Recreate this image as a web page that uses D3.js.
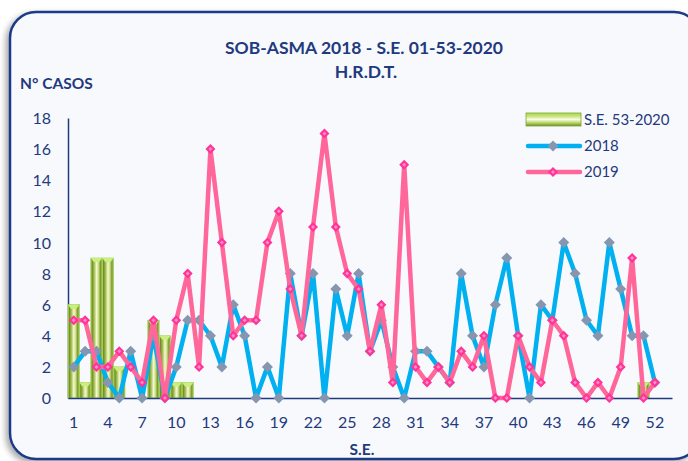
<!DOCTYPE html>
<html>
<head>
<meta charset="utf-8">
<script src="https://cdn.jsdelivr.net/npm/d3@7"></script>
<style>
  body { margin: 0; background: #ffffff; }
  text { font-family: Lato, "Open Sans", sans-serif; fill: #1f3a7e; }
</style>
</head>
<body>
<div id="chart"></div>
<script>
// weeks 1..53 (53 is an empty slot at the end)
var weeks = d3.range(1, 54);
var tickWeeks = [1, 4, 7, 10, 13, 16, 19, 22, 25, 28, 31, 34, 37, 40, 43, 46, 49, 52];
var yTicks = [0, 2, 4, 6, 8, 10, 12, 14, 16, 18];

// S.E. 53-2020 bars (week, value)
var barWeeks = [1, 2, 3, 4, 5, 8, 9, 10, 11, 51];
var barValues = [6, 1, 9, 9, 2, 5, 4, 1, 1, 1];

// 2018 and 2019, weeks 1..52
var values2018 = [2, 3, 3, 1, 0, 3, 0, 4, 0, 2, 5, 5, 4, 2, 6, 4, 0, 2, 0, 8, 4, 8, 0, 7, 4, 8,
                  3, 5, 2, 0, 3, 3, 2, 1, 8, 4, 2, 6, 9, 4, 0, 6, 5, 10, 8, 5, 4, 10, 7, 4, 4, 1];
var values2019 = [5, 5, 2, 2, 3, 2, 1, 5, 0, 5, 8, 2, 16, 10, 4, 5, 5, 10, 12, 7, 4, 11, 17, 11, 8, 7,
                  3, 6, 1, 15, 2, 1, 2, 1, 3, 2, 4, 0, 0, 4, 2, 1, 5, 4, 1, 0, 1, 0, 2, 9, 0, 1];

var W = 688, H = 461;
var navy = "#1f3a7e";

var svg = d3.select("#chart").append("svg").attr("width", W).attr("height", H);
var defs = svg.append("defs");

// shadow for the frame
var f = defs.append("filter").attr("id", "shadow").attr("x", "-5%").attr("y", "-5%").attr("width", "110%").attr("height", "110%");
f.append("feGaussianBlur").attr("in", "SourceAlpha").attr("stdDeviation", 3);
f.append("feOffset").attr("dx", -3).attr("dy", 3).attr("result", "b");
f.append("feComponentTransfer").append("feFuncA").attr("type", "linear").attr("slope", 0.35);
var fm = f.append("feMerge");
fm.append("feMergeNode");
fm.append("feMergeNode").attr("in", "SourceGraphic");

// bar gradient (3d cylinder look)
var g1 = defs.append("linearGradient").attr("id", "barGrad").attr("x1", "0").attr("x2", "1").attr("y1", "0").attr("y2", "0");
[["0", "#b5dc64"], ["0.12", "#6f8f25"], ["0.3", "#a6bf55"], ["0.5", "#f3f7cf"], ["0.65", "#d5e592"], ["0.85", "#7b9a2e"], ["1", "#a8d058"]]
  .forEach(function(s) { g1.append("stop").attr("offset", s[0]).attr("stop-color", s[1]); });
var g2 = defs.append("linearGradient").attr("id", "legGrad").attr("x1", "0").attr("x2", "0").attr("y1", "0").attr("y2", "1");
[["0", "#a8d850"], ["0.25", "#c5e57a"], ["0.5", "#fbfde8"], ["0.75", "#b7d664"], ["1", "#6f8f25"]]
  .forEach(function(s) { g2.append("stop").attr("offset", s[0]).attr("stop-color", s[1]); });

// frame
svg.append("rect")
  .attr("x", 10).attr("y", 12).attr("width", 690).attr("height", 447)
  .attr("rx", 26)
  .attr("fill", "#f8f9fc")
  .attr("stroke", "#1d3a86").attr("stroke-width", 2.5)
  .attr("filter", "url(#shadow)");

// scales
var x = d3.scaleBand().domain(weeks).range([68, 672]).padding(0);
var y = d3.scaleLinear().domain([0, 18]).range([398, 118]);

// titles
svg.append("text").attr("x", 364).attr("y", 54).attr("text-anchor", "middle")
  .style("font-weight", "bold").style("font-size", "17.5px").text("SOB-ASMA 2018 - S.E. 01-53-2020");
svg.append("text").attr("x", 366).attr("y", 78).attr("text-anchor", "middle")
  .style("font-weight", "bold").style("font-size", "17.5px").text("H.R.D.T.");
svg.append("text").attr("x", 20).attr("y", 89)
  .style("font-weight", "bold").style("font-size", "15.5px").text("N° CASOS");
svg.append("text").attr("x", 362).attr("y", 455).attr("text-anchor", "middle")
  .style("font-weight", "bold").style("font-size", "15.5px").text("S.E.");

// y axis
var yAxis = d3.axisLeft(y).tickValues(yTicks).tickSize(0).tickPadding(17);
var gy = svg.append("g").attr("transform", "translate(68,0)").call(yAxis);
gy.select(".domain").attr("stroke", navy).attr("stroke-width", 1.5);
gy.selectAll("text").style("font-size", "16px").attr("fill", navy).attr("dy", "0.35em");

// bars
var bars = barWeeks.map(function(w, i) { return {w: w, v: barValues[i]}; });
var gb = svg.append("g");
gb.selectAll("rect.bar").data(bars).enter().append("rect")
  .attr("class", "bar")
  .attr("x", function(d) { return x(d.w); })
  .attr("y", function(d) { return y(d.v); })
  .attr("width", x.bandwidth())
  .attr("height", function(d) { return y(0) - y(d.v); })
  .attr("fill", "url(#barGrad)")
  .attr("stroke", "#9cc84a").attr("stroke-width", 0.6);
// bevel on top of each bar
gb.selectAll("path.cap").data(bars).enter().append("path")
  .attr("class", "cap")
  .attr("d", function(d) {
    var x0 = x(d.w), x1 = x0 + x.bandwidth(), t = y(d.v);
    return "M" + x0 + "," + t + "L" + x1 + "," + t + "L" + (x1 - 3) + "," + (t + 4) + "L" + (x0 + 3) + "," + (t + 4) + "Z";
  })
  .attr("fill", "#c9ef7e");

// x axis
var xAxis = d3.axisBottom(x).tickValues(tickWeeks).tickSize(0).tickPadding(19);
var gx = svg.append("g").attr("transform", "translate(0,398)").call(xAxis);
gx.select(".domain").attr("stroke", navy).attr("stroke-width", 1.5);
gx.selectAll("text").style("font-size", "16px").attr("fill", navy);

function cx(i) { return x(weeks[i]) + x.bandwidth() / 2; }
var line = d3.line().x(function(d, i) { return cx(i); }).y(function(d) { return y(d); });
var diamond = function(s) { return "M0," + (-s) + "L" + s + ",0L0," + s + "L" + (-s) + ",0Z"; };

// 2018
svg.append("path").attr("d", line(values2018)).attr("fill", "none")
  .attr("stroke", "#00b0f0").attr("stroke-width", 4.5).attr("stroke-linejoin", "round");
svg.append("g").selectAll("path").data(values2018).enter().append("path")
  .attr("transform", function(d, i) { return "translate(" + cx(i) + "," + y(d) + ")"; })
  .attr("d", diamond(5.5)).attr("fill", "#8496b0");

// 2019
svg.append("path").attr("d", line(values2019)).attr("fill", "none")
  .attr("stroke", "#ff6699").attr("stroke-width", 4.5).attr("stroke-linejoin", "round");
var m19 = svg.append("g").selectAll("g").data(values2019).enter().append("g")
  .attr("transform", function(d, i) { return "translate(" + cx(i) + "," + y(d) + ")"; });
m19.append("path").attr("d", diamond(5)).attr("fill", "#ff3399");
m19.append("path").attr("d", diamond(2)).attr("fill", "#ff8cc0");

// legend
var lg = svg.append("g");
lg.append("rect").attr("x", 526).attr("y", 113).attr("width", 55).attr("height", 13)
  .attr("fill", "url(#legGrad)").attr("stroke", "#7fa632").attr("stroke-width", 0.8);
lg.append("text").attr("x", 584).attr("y", 125).style("font-size", "15px").text("S.E. 53-2020");

lg.append("line").attr("x1", 528).attr("x2", 580).attr("y1", 146).attr("y2", 146)
  .attr("stroke", "#00b0f0").attr("stroke-width", 4.5).attr("stroke-linecap", "round");
lg.append("path").attr("transform", "translate(553,146)").attr("d", diamond(5.5)).attr("fill", "#8496b0");
lg.append("text").attr("x", 584).attr("y", 151).style("font-size", "15px").text("2018");

lg.append("line").attr("x1", 528).attr("x2", 580).attr("y1", 172).attr("y2", 172)
  .attr("stroke", "#ff6699").attr("stroke-width", 4.5).attr("stroke-linecap", "round");
lg.append("path").attr("transform", "translate(553,172)").attr("d", diamond(5)).attr("fill", "#ff3399");
lg.append("path").attr("transform", "translate(553,172)").attr("d", diamond(2)).attr("fill", "#ff8cc0");
lg.append("text").attr("x", 584).attr("y", 177).style("font-size", "15px").text("2019");
</script>
</body>
</html>
